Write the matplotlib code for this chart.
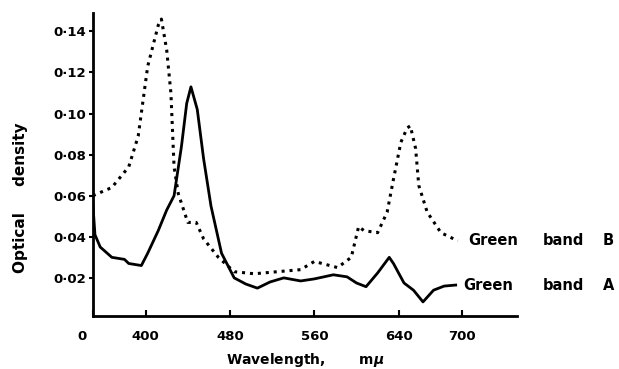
import matplotlib.pyplot as plt
from matplotlib.transforms import ScaledTranslation

# Green band B (dotted)
wl_b = [350, 368, 384, 393, 402, 412, 415, 420, 424, 427, 431, 440, 448, 455,
        469, 484, 503, 525, 547, 560, 582, 595, 602, 607, 620, 629, 635, 642,
        648, 651, 656, 659, 667, 680, 696]
od_b = [0.060, 0.064, 0.074, 0.089, 0.123, 0.143, 0.146, 0.131, 0.110, 0.074,
        0.061, 0.047, 0.047, 0.039, 0.030, 0.023, 0.022, 0.023, 0.024, 0.028,
        0.025, 0.030, 0.045, 0.043, 0.042, 0.052, 0.068, 0.086, 0.093, 0.094,
        0.083, 0.065, 0.052, 0.042, 0.038]

# Green band A (solid)
wl_a = [350, 352, 357, 368, 380, 384, 396, 402, 412, 420, 427, 434, 439, 443,
        449, 455, 462, 472, 484, 495, 506, 518, 531, 547, 560, 578, 591, 600,
        609, 620, 631, 635, 645, 654, 663, 673, 683, 694]
od_a = [0.056, 0.041, 0.035, 0.030, 0.029, 0.027, 0.026, 0.032, 0.043, 0.053,
        0.060, 0.084, 0.105, 0.113, 0.102, 0.078, 0.055, 0.032, 0.020, 0.017,
        0.015, 0.018, 0.020, 0.0185, 0.0195, 0.0215, 0.0205, 0.0175, 0.0157,
        0.0224, 0.030, 0.027, 0.0175, 0.014, 0.0083, 0.014, 0.016, 0.0165]

x_ticks = [350, 400, 480, 560, 640, 700]
x_labels = ['0', '400', '480', '560', '640', '700']
y_ticks = [0.02, 0.04, 0.06, 0.08, 0.10, 0.12, 0.14]
y_labels = ['0·02', '0·04', '0·06', '0·08', '0·10', '0·12', '0·14']

plt.rcParams['font.family'] = 'DejaVu Sans'
plt.rcParams['font.weight'] = 'bold'

fig = plt.figure(figsize=(6.19, 3.69), dpi=100)
ax = fig.add_axes([0.150, 0.144, 0.685, 0.821])

ax.plot(wl_b, od_b, color='black', linestyle=(0, (1, 1.6)), linewidth=2.2)
ax.plot(wl_a, od_a, color='black', linestyle='-', linewidth=2.0)

ax.set_xlim(350, 752)
ax.set_ylim(0.0015, 0.149)
ax.spines['top'].set_visible(False)
ax.spines['right'].set_visible(False)
ax.spines['left'].set_linewidth(2)
ax.spines['bottom'].set_linewidth(2)

ax.set_xticks(x_ticks)
ax.set_xticklabels(x_labels, fontsize=9.5, fontweight='bold')
ax.set_yticks(y_ticks)
ax.set_yticklabels(y_labels, fontsize=9.5, fontweight='bold')
ax.tick_params(axis='x', direction='in', length=4, width=1.5, pad=10)
ax.tick_params(axis='y', direction='out', length=3, width=1.5, pad=2)

# the "0" at the origin sits a little left of the axis
zero = ax.get_xticklabels()[0]
zero.set_transform(zero.get_transform() + ScaledTranslation(-0.11, 0, fig.dpi_scale_trans))

ax.set_xlabel('Wavelength,       m$\\mu$', fontsize=10, fontweight='bold', labelpad=6)
ax.set_ylabel('Optical     density', fontsize=11, fontweight='bold')
ax.yaxis.set_label_coords(-0.153, 0.39)

for word, x in [('Green', 705.5), ('band', 776.6), ('B', 833.5)]:
    ax.text(x, od_b[-1], word, fontsize=10.5, fontweight='bold',
            va='center', ha='left', clip_on=False)
for word, x in [('Green', 700.8), ('band', 776.6), ('A', 833.5)]:
    ax.text(x, od_a[-1], word, fontsize=10.5, fontweight='bold',
            va='center', ha='left', clip_on=False)

fig.savefig('out.png', dpi=100)
